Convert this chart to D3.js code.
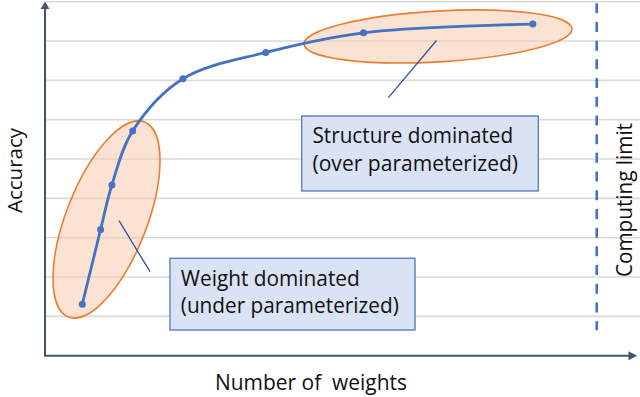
<!DOCTYPE html>
<html>
<head>
<meta charset="utf-8">
<script src="https://cdn.jsdelivr.net/npm/d3@7"></script>
<style>
  html, body { margin: 0; padding: 0; background: #fff; }
  svg { display: block; }
  text { font-family: "Open Sans", "Lato", sans-serif; fill: #111; }
</style>
</head>
<body>
<div id="chart"></div>
<script>
// ---- data (arbitrary units) ----
const weights  = [0.63, 0.94, 1.13, 1.48, 2.33, 3.73, 5.38, 8.24];
const accuracy = [1.31, 3.21, 4.34, 5.71, 7.04, 7.71, 8.21, 8.43];
const gridLevels = [1, 2, 3, 4, 5, 6, 7, 8, 9];
const computingLimit = 9.32;
const xAxisLabel = "Number of  weights";
const yAxisLabel = "Accuracy";
const limitLabel = "Computing limit";
const weightBoxLines = ["Weight dominated", "(under parameterized)"];
const structBoxLines = ["Structure dominated", "(over parameterized)"];

const W = 640, H = 397;
const svg = d3.select("#chart").append("svg").attr("width", W).attr("height", H);

const x = d3.scaleLinear().domain([0, 10]).range([45, 637]);
const y = d3.scaleLinear().domain([0, 9]).range([355.7, 1.7]);

const blue = "#4472C4", orange = "#ED7D31", axisCol = "#44546A";

// gridlines
svg.append("g").selectAll("line").data(gridLevels).join("line")
  .attr("x1", x(0)).attr("x2", W)
  .attr("y1", d => y(d)).attr("y2", d => y(d))
  .attr("stroke", "#D9D9D9").attr("stroke-width", 1.6);

// computing limit dashed line
svg.append("line")
  .attr("x1", x(computingLimit)).attr("x2", x(computingLimit))
  .attr("y1", y(8.96)).attr("y2", y(0.65))
  .attr("stroke", blue).attr("stroke-width", 2.6)
  .attr("stroke-dasharray", "10,8.7");

// ellipses
const ellipses = [
  { cx: 1.039, cy: 3.463, rx: 104.6, ry: 40.4, rot: -68.7 },
  { cx: 6.639, cy: 8.116, rx: 134.2, ry: 25.4, rot: -3.3 }
];
svg.append("g").selectAll("ellipse").data(ellipses).join("ellipse")
  .attr("cx", 0).attr("cy", 0)
  .attr("rx", d => d.rx).attr("ry", d => d.ry)
  .attr("transform", d => `translate(${x(d.cx)},${y(d.cy)}) rotate(${d.rot})`)
  .attr("fill", "#F8CBAD").attr("fill-opacity", 0.55)
  .attr("stroke", orange).attr("stroke-width", 1.6);

// curve
const pts = weights.map((w, i) => [w, accuracy[i]]);
const line = d3.line().x(d => x(d[0])).y(d => y(d[1])).curve(d3.curveCatmullRom.alpha(0.5));
svg.append("path").datum(pts).attr("d", line)
  .attr("fill", "none").attr("stroke", blue).attr("stroke-width", 2.8);
svg.append("g").selectAll("circle").data(pts).join("circle")
  .attr("cx", d => x(d[0])).attr("cy", d => y(d[1])).attr("r", 3.5)
  .attr("fill", blue);

// callout lines
const callouts = [
  [[1.25, 3.433], [1.774, 2.136]],
  [[5.80, 6.56], [6.613, 8.014]]
];
svg.append("g").selectAll("line").data(callouts).join("line")
  .attr("x1", d => x(d[0][0])).attr("y1", d => y(d[0][1]))
  .attr("x2", d => x(d[1][0])).attr("y2", d => y(d[1][1]))
  .attr("stroke", "#2F5597").attr("stroke-width", 1.3);

// text boxes
const boxes = [
  { x0: 2.111, x1: 6.250, y0: 2.476, y1: 0.653, lines: weightBoxLines, widths: [179, 218], base: [286, 313] },
  { x0: 4.336, x1: 8.333, y0: 6.095, y1: 4.188, lines: structBoxLines, widths: [200.6, 205.6], base: [143.3, 170.7] }
];
boxes.forEach(b => {
  svg.append("rect")
    .attr("x", x(b.x0)).attr("y", y(b.y0))
    .attr("width", x(b.x1) - x(b.x0)).attr("height", y(b.y1) - y(b.y0))
    .attr("fill", "#DAE3F3").attr("stroke", "#5B7FC0").attr("stroke-width", 1.4);
  b.lines.forEach((t, i) => {
    svg.append("text")
      .attr("x", x(b.x0) + 10.8).attr("y", b.base[i])
      .attr("font-size", 21)
      .attr("textLength", b.widths[i]).attr("lengthAdjust", "spacingAndGlyphs")
      .text(t);
  });
});

// axes with arrows
svg.append("line").attr("x1", x(0)).attr("y1", y(0)).attr("x2", x(0)).attr("y2", 8)
  .attr("stroke", axisCol).attr("stroke-width", 2);
svg.append("line").attr("x1", x(0) - 1).attr("y1", y(0)).attr("x2", 629).attr("y2", y(0))
  .attr("stroke", axisCol).attr("stroke-width", 2);
svg.append("path").attr("d", `M${x(0)},1.5 L${x(0) - 4.5},9 L${x(0) + 4.5},9 Z`).attr("fill", axisCol);
svg.append("path").attr("d", `M637,${y(0)} L628.5,${y(0) - 4.5} L628.5,${y(0) + 4.5} Z`).attr("fill", axisCol);

// axis labels
svg.append("text")
  .attr("x", 215).attr("y", 390)
  .attr("font-size", 21).style("white-space", "pre")
  .attr("textLength", 192).attr("lengthAdjust", "spacingAndGlyphs")
  .text(xAxisLabel);

svg.append("text")
  .attr("transform", "translate(21.8,170.5) rotate(-90)")
  .attr("text-anchor", "middle").attr("font-size", 20)
  .attr("textLength", 85).attr("lengthAdjust", "spacingAndGlyphs")
  .text(yAxisLabel);

svg.append("text")
  .attr("transform", "translate(632,200) rotate(-90)")
  .attr("text-anchor", "middle").attr("font-size", 21)
  .attr("textLength", 154).attr("lengthAdjust", "spacingAndGlyphs")
  .text(limitLabel);
</script>
</body>
</html>
